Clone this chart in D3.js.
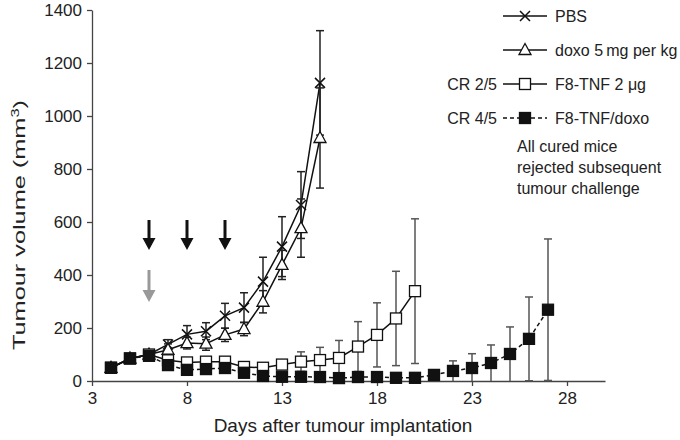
<!DOCTYPE html>
<html>
<head>
<meta charset="utf-8">
<script src="https://cdn.jsdelivr.net/npm/d3@7"></script>
<style>
  body { margin: 0; background: #fff; }
  svg { font-family: "Liberation Sans", Arial, Helvetica, sans-serif; }
  .axis path, .axis line { stroke: #444; stroke-width: 1.3; }
  .axis text { font-size: 17px; fill: #222; }
  .label { font-size: 19px; fill: #222; }
  .legend text { font-size: 16px; fill: #222; }
</style>
</head>
<body>
<div id="chart"></div>
<script>
'use strict';

// data (days after implantation, mean tumour volume, error)
var pbsDays = [4, 5, 6, 7, 8, 9, 10, 11, 12, 13, 14, 15];
var pbsMean = [50, 85, 100, 138, 176, 188, 246, 277, 375, 507, 664, 1125];
var pbsErr = [8, 10, 10, 18, 33, 32, 47, 56, 92, 113, 126, 197];

var doxoDays = [4, 5, 6, 7, 8, 9, 10, 11, 12, 13, 14, 15];
var doxoMean = [50, 85, 100, 118, 143, 141, 174, 196, 299, 438, 577, 917];
var doxoErr = [8, 10, 10, 22, 22, 25, 25, 25, 42, 55, 110, 189];

var tnfDays = [4, 5, 6, 7, 8, 9, 10, 11, 12, 13, 14, 15, 16, 17, 18, 19, 20];
var tnfMean = [50, 85, 100, 78, 70, 73, 73, 53, 50, 62, 73, 79, 87, 130, 174, 236, 339];
var tnfErr = [6, 8, 8, 10, 8, 10, 10, 8, 10, 15, 37, 48, 66, 94, 121, 178, 273];

var comboDays = [4, 5, 6, 7, 8, 9, 10, 11, 12, 13, 14, 15, 16, 17, 18, 19, 20, 21, 22, 23, 24, 25, 26, 27];
var comboMean = [50, 85, 95, 60, 42, 45, 49, 31, 19, 16, 16, 15, 11, 15, 15, 12, 12, 23, 38, 49, 68, 102, 159, 269];
var comboErr = [6, 8, 8, 10, 10, 10, 10, 8, 8, 8, 8, 8, 8, 8, 8, 8, 8, 12, 38, 54, 68, 102, 158, 267];

// treatment days (black arrows = F8-TNF, grey arrow = doxo)
var tnfInjections = [6, 8, 10];
var doxoInjections = [6];

var xTicks = [3, 8, 13, 18, 23, 28];
var yTicks = [0, 200, 400, 600, 800, 1000, 1200, 1400];

var legendNames = ['PBS', 'doxo 5\u2009mg per kg', 'F8-TNF 2 \u03bcg', 'F8-TNF/doxo'];
var legendCR = ['', '', 'CR 2/5', 'CR 4/5'];
var noteLines = ['All cured mice', 'rejected subsequent', 'tumour challenge'];

var width = 680;
var height = 440;

var x = d3.scaleLinear().domain([3, 30]).range([92, 605]);
var y = d3.scaleLinear().domain([0, 1400]).range([381, 10]);

var svg = d3.select('#chart')
    .append('svg')
    .attr('width', width)
    .attr('height', height);

// axes
svg.append('g')
    .attr('class', 'x axis')
    .attr('transform', 'translate(0,' + y(0) + ')')
    .call(d3.axisBottom(x).tickValues(xTicks).tickSize(5).tickSizeOuter(0).tickPadding(6));

svg.append('g')
    .attr('class', 'y axis')
    .attr('transform', 'translate(' + x(3) + ',0)')
    .call(d3.axisLeft(y).tickValues(yTicks).tickFormat(d3.format('d')).tickSize(5).tickSizeOuter(0).tickPadding(5));

svg.append('text')
    .attr('class', 'label')
    .attr('x', 343)
    .attr('y', 432)
    .attr('text-anchor', 'middle')
    .text('Days after tumour implantation');

// y title is stretched along its length like in the figure
var yLabel = svg.append('text')
    .attr('class', 'label')
    .style('font-size', '17px')
    .attr('transform', 'translate(25,225) rotate(-90)')
    .attr('text-anchor', 'middle')
    .attr('textLength', 250)
    .attr('lengthAdjust', 'spacingAndGlyphs');
yLabel.append('tspan').text('Tumour volume (mm');
yLabel.append('tspan').attr('baseline-shift', 'super').style('font-size', '11px').text('3');
yLabel.append('tspan').text(')');

function zip(days, mean, err) {
  return days.map(function (d, i) { return {day: d, v: mean[i], e: err[i]}; });
}

var series = [
  {key: 'pbs', data: zip(pbsDays, pbsMean, pbsErr), marker: 'cross', dash: null, errColor: '#222'},
  {key: 'doxo', data: zip(doxoDays, doxoMean, doxoErr), marker: 'triangle', dash: null, errColor: '#222'},
  {key: 'tnf', data: zip(tnfDays, tnfMean, tnfErr), marker: 'open', dash: null, errColor: '#555'},
  {key: 'combo', data: zip(comboDays, comboMean, comboErr), marker: 'filled', dash: '4,3', errColor: '#555'}
];

var line = d3.line()
    .x(function (d) { return x(d.day); })
    .y(function (d) { return y(d.v); });

function drawMarker(g, type, cx, cy) {
  if (type === 'cross') {
    g.append('path')
        .attr('d', 'M' + (cx - 5) + ',' + (cy - 5) + 'L' + (cx + 5) + ',' + (cy + 5) +
                   'M' + (cx - 5) + ',' + (cy + 5) + 'L' + (cx + 5) + ',' + (cy - 5))
        .attr('stroke', '#111').attr('stroke-width', 1.5).attr('fill', 'none');
  } else if (type === 'triangle') {
    g.append('path')
        .attr('d', 'M' + cx + ',' + (cy - 6.5) + 'L' + (cx + 6) + ',' + (cy + 4.5) + 'L' + (cx - 6) + ',' + (cy + 4.5) + 'Z')
        .attr('stroke', '#111').attr('stroke-width', 1.3).attr('fill', '#fff');
  } else {
    g.append('rect')
        .attr('x', cx - 5.5).attr('y', cy - 5.5)
        .attr('width', 11).attr('height', 11)
        .attr('stroke', '#111').attr('stroke-width', 1.3)
        .attr('fill', type === 'filled' ? '#111' : '#fff');
  }
}

series.forEach(function (s) {
  var g = svg.append('g').attr('class', 'series ' + s.key);

  // error bars
  s.data.forEach(function (d) {
    var top = y(d.v + d.e);
    var bot = y(Math.max(0, d.v - d.e));
    g.append('line')
        .attr('x1', x(d.day)).attr('x2', x(d.day))
        .attr('y1', top).attr('y2', bot)
        .attr('stroke', s.errColor).attr('stroke-width', 1.5);
    g.append('line')
        .attr('x1', x(d.day) - 4).attr('x2', x(d.day) + 4)
        .attr('y1', top).attr('y2', top)
        .attr('stroke', s.errColor).attr('stroke-width', 1.5);
    if (d.v - d.e > 0) {
      g.append('line')
          .attr('x1', x(d.day) - 4).attr('x2', x(d.day) + 4)
          .attr('y1', bot).attr('y2', bot)
          .attr('stroke', s.errColor).attr('stroke-width', 1.5);
    }
  });

  g.append('path')
      .attr('d', line(s.data))
      .attr('fill', 'none')
      .attr('stroke', '#111')
      .attr('stroke-width', 1.5)
      .attr('stroke-dasharray', s.dash);

  s.data.forEach(function (d) {
    drawMarker(g, s.marker, x(d.day), y(d.v));
  });
});

// injection arrows
function drawArrow(cx, yTop, yBottom, color) {
  var head = 12;
  svg.append('path')
      .attr('d', 'M' + (cx - 1.5) + ',' + yTop + 'L' + (cx + 1.5) + ',' + yTop +
                 'L' + (cx + 1.5) + ',' + (yBottom - head) + 'L' + (cx + 6.5) + ',' + (yBottom - head) +
                 'L' + cx + ',' + yBottom + 'L' + (cx - 6.5) + ',' + (yBottom - head) +
                 'L' + (cx - 1.5) + ',' + (yBottom - head) + 'Z')
      .attr('fill', color);
}

tnfInjections.forEach(function (d) {
  drawArrow(x(d), y(608), y(494), '#111');
});
doxoInjections.forEach(function (d) {
  drawArrow(x(d), y(419), y(298), '#999');
});

// legend
var legend = svg.append('g').attr('class', 'legend');
var rowY = [16, 50, 84, 118];
var markerTypes = ['cross', 'triangle', 'open', 'filled'];

legendNames.forEach(function (name, i) {
  var ly = rowY[i];
  legend.append('line')
      .attr('x1', 503).attr('x2', 547)
      .attr('y1', ly).attr('y2', ly)
      .attr('stroke', '#111').attr('stroke-width', 1.5)
      .attr('stroke-dasharray', i === 3 ? '4,3' : null);
  drawMarker(legend, markerTypes[i], 525, ly);
  legend.append('text')
      .attr('x', 555).attr('y', ly)
      .attr('dy', '0.35em')
      .text(name);
  if (legendCR[i]) {
    legend.append('text')
        .attr('x', 497).attr('y', ly)
        .attr('dy', '0.35em')
        .attr('text-anchor', 'end')
        .text(legendCR[i]);
  }
});

noteLines.forEach(function (t, i) {
  legend.append('text')
      .attr('x', 517).attr('y', 146 + i * 21)
      .attr('dy', '0.35em')
      .text(t);
});
</script>
</body>
</html>
